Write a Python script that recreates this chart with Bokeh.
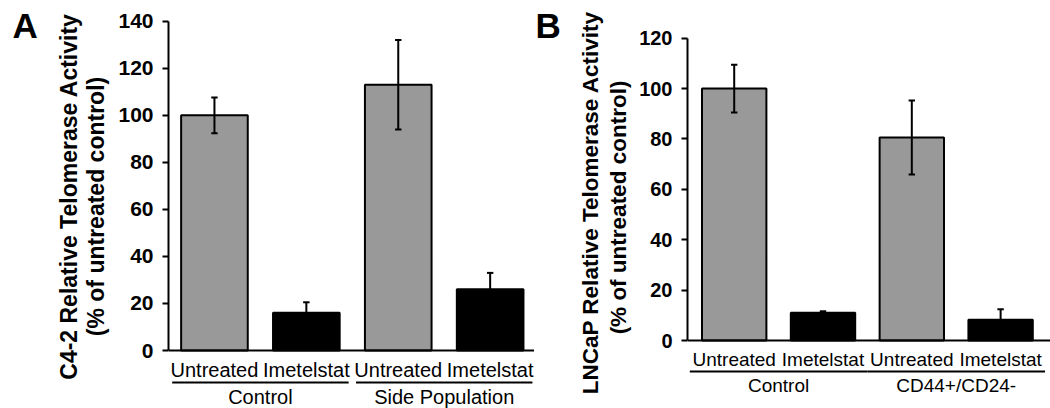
import math
from bokeh.plotting import figure
from bokeh.layouts import row
from bokeh.models import ColumnDataSource, FixedTicker, Span, Range1d
from bokeh.core.properties import value
from bokeh.embed import file_html
from bokeh.resources import INLINE

# ---------------- data ----------------
categories = ["Untreated", "Imetelstat", "Untreated", "Imetelstat"]
positions = [1, 2, 3, 4]
groups_a = ["Control", "Side Population"]
groups_b = ["Control", "CD44+/CD24-"]
group_members = [[1, 2], [3, 4]]

a_values = [100.0, 16.0, 113.0, 26.0]
a_errors = [7.6, 4.5, 19.0, 7.0]
b_values = [100.0, 11.0, 80.6, 8.2]
b_errors = [9.5, 0.6, 14.7, 4.2]

a_ticks = [0, 20, 40, 60, 80, 100, 120, 140]
b_ticks = [0, 20, 40, 60, 80, 100, 120]

a_title = ["C4-2 Relative Telomerase Activity", "(% of untreated control)"]
b_title = ["LNCaP Relative Telomerase Activity", "(% of untreated control)"]

# ---------------- styles ----------------
FONT = "Liberation Sans"
treat_colors = {"Untreated": "#999999", "Imetelstat": "#000000"}
H = 408


def text_panel(width, letter, letter_x, titles, title_x, title_yc, title_size):
    p = figure(width=width, height=H, output_backend="svg", toolbar_location=None,
               x_range=Range1d(0, width), y_range=Range1d(0, H),
               x_axis_location=None, y_axis_location=None,
               min_border=0, title=None)
    p.grid.visible = False
    p.outline_line_color = None
    p.text(x=[letter_x], y=[H - 24.5], text=[letter], text_font=value(FONT),
           text_font_size="35px", text_font_style="bold", text_align="left",
           text_baseline="middle", text_color="black")
    p.text(x=title_x, y=[H - v for v in title_yc], text=titles, angle=math.pi / 2,
           text_font=value(FONT), text_font_size=title_size, text_font_style="bold",
           text_align="center", text_baseline="middle", text_color="black")
    return p


def plot_panel(values, errors, ticks, groups, cfg):
    width = cfg["fig_width"]
    mbl = cfg["border_left"]
    fw = width - mbl
    x0 = cfg["x_start"]
    pxx = cfg["pxu_x"]
    y0p = cfg["y0_page"]
    pxy = cfg["pxu_y"]

    def dy(page_y):
        return (y0p - page_y) / pxy

    p = figure(width=width, height=H, output_backend="svg", toolbar_location=None,
               x_range=Range1d(x0, x0 + fw / pxx), y_range=Range1d(dy(H), dy(0)),
               x_axis_location=None, min_border_left=mbl, min_border_right=0,
               min_border_top=0, min_border_bottom=0, title=None)
    p.grid.visible = False
    p.outline_line_color = None

    src = ColumnDataSource(dict(
        x=positions, top=values,
        color=[treat_colors[c] for c in categories],
        lo=[v - e for v, e in zip(values, errors)],
        hi=[v + e for v, e in zip(values, errors)],
    ))
    p.vbar(x="x", top="top", bottom=0, width=0.725, source=src,
           fill_color="color", line_color="black", line_width=2)

    cap = 3.2 / pxx
    p.segment(x0="x", y0="lo", x1="x", y1="hi", source=src, line_color="black", line_width=2)
    for key in ("hi", "lo"):
        p.segment(x0=[x - cap for x in positions], y0=src.data[key],
                  x1=[x + cap for x in positions], y1=src.data[key],
                  line_color="black", line_width=2)

    p.add_layout(Span(location=0, dimension="width", line_color="black", line_width=2))

    ax = p.yaxis[0]
    ax.ticker = FixedTicker(ticks=ticks)
    ax.bounds = (ticks[0], ticks[-1])
    ax.axis_line_color = "black"
    ax.axis_line_width = 2
    ax.major_tick_line_color = "black"
    ax.major_tick_line_width = 2
    ax.major_tick_out = 6
    ax.major_tick_in = 0
    ax.minor_tick_line_color = None
    ax.major_label_standoff = 9
    ax.major_label_text_font = FONT
    ax.major_label_text_font_size = cfg["tick_size"]
    ax.major_label_text_font_style = "bold"
    ax.major_label_text_color = "black"

    p.text(x=positions, y=[dy(cfg["cat_mid"])] * len(positions), text=categories,
           text_font=value(FONT), text_font_size=cfg["cat_size"], text_align="center",
           text_baseline="middle", text_color="black")
    centers = [sum(m) / len(m) for m in group_members]
    hw = cfg["under_hw"]
    uy = dy(cfg["under_y"])
    p.segment(x0=[c - hw for c in centers], y0=[uy] * 2,
              x1=[c + hw for c in centers], y1=[uy] * 2,
              line_color="black", line_width=2)
    p.text(x=centers, y=[dy(cfg["grp_mid"])] * 2, text=groups,
           text_font=value(FONT), text_font_size=cfg["cat_size"], text_align="center",
           text_baseline="middle", text_color="black")
    return p


cfg_a = dict(fig_width=422, border_left=56, x_start=0.5, pxu_x=91.9,
             y0_page=350, pxu_y=2.352, tick_size="21px", cat_size="20px",
             cat_mid=369.5, under_y=382, grp_mid=396.5, under_hw=0.96)
cfg_b = dict(fig_width=417, border_left=54, x_start=0.474, pxu_x=88.8,
             y0_page=340, pxu_y=2.519, tick_size="20px", cat_size="19px",
             cat_mid=359, under_y=371, grp_mid=385, under_hw=1.0)

ta = text_panel(112, "A", 12, a_title, [68.5, 95.5], [196, 206], "23px")
pa = plot_panel(a_values, a_errors, a_ticks, groups_a, cfg_a)
tb = text_panel(99, "B", 1, b_title, [56, 83.5], [202, 207], "22.5px")
pb = plot_panel(b_values, b_errors, b_ticks, groups_b, cfg_b)

layout = row(ta, pa, tb, pb, spacing=0)
open("out.html", "w").write(file_html(layout, INLINE))
